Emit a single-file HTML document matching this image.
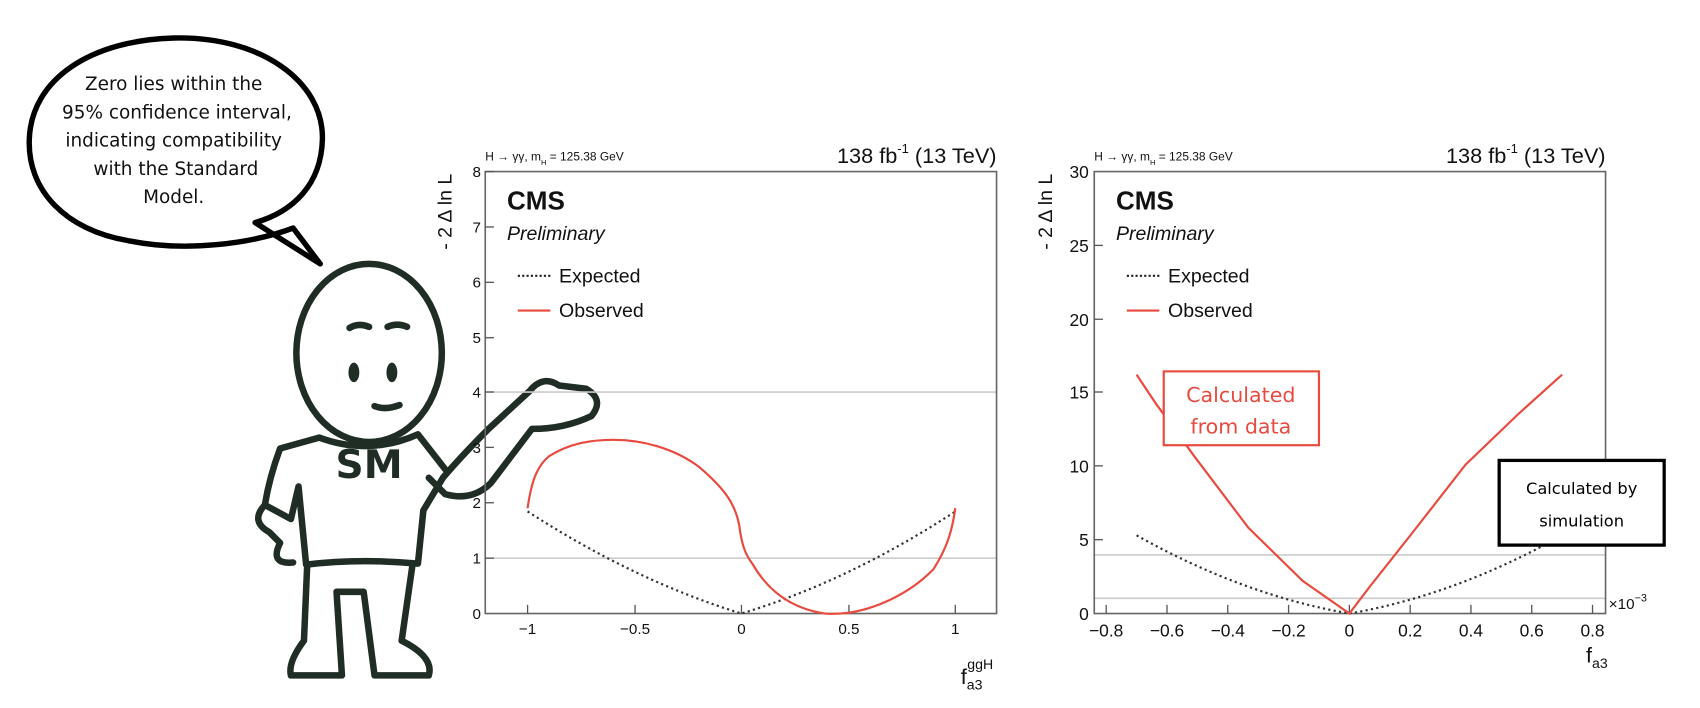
<!DOCTYPE html>
<html><head><meta charset="utf-8"><style>
html,body{margin:0;padding:0;background:#fff;}
svg{display:block}
.t{font-family:"Liberation Sans",Arial,sans-serif;fill:#111}
.c{font-family:"DejaVu Sans","Liberation Sans",sans-serif}
</style></head><body>
<svg width="1700" height="708" viewBox="0 0 1566 652" preserveAspectRatio="none" xmlns="http://www.w3.org/2000/svg">
<rect width="1566" height="652" fill="#fff"/>

<!-- Speech bubble -->
<path d="M160,35 C240,33 298,75 297,128 C296,170 270,195 235,205 L295,243 L270,210 C230,225 170,232 120,222 C60,212 25,175 27,128 C29,72 85,37 160,35 Z" fill="#fff" stroke="#000" stroke-width="5" stroke-linejoin="round"/>
<g class="c" font-size="17" text-anchor="middle" fill="#111">
<text x="160" y="83">Zero lies within the</text>
<text x="163" y="109">95% confidence interval,</text>
<text x="160" y="135">indicating compatibility</text>
<text x="162" y="161">with the Standard</text>
<text x="160" y="187">Model.</text>
</g>

<!-- Character -->
<g fill="none" stroke="#1f2d25" stroke-width="6" stroke-linecap="round" stroke-linejoin="round">
<ellipse cx="340" cy="325" rx="67" ry="82"/>
<path d="M322,302 Q330,297 340,301"/><path d="M357,301 Q366,297 375,301"/>
<path d="M345,374 Q355,378 368,373"/>
<path d="M294,403 L258,413 Q248,440 244,465 L268,478 L275,448 L282,520 Q330,514 385,519 L390,470 L408,440 Q425,420 450,395 L488,360 Q500,345 515,355 L540,358 Q557,368 545,383 Q520,395 490,395 L452,445 Q435,462 410,455 L395,440"/>
<path d="M294,403 Q340,420 385,400 L410,432"/>
<path d="M244,465 Q230,480 248,490 L258,500 Q248,520 270,518"/>
<path d="M283,520 L280,590 Q265,610 268,622 L315,622 L310,545 L335,545 L345,622 L395,622 Q400,605 370,590 L380,520"/>
</g>
<g fill="#1f2d25"><ellipse cx="326" cy="343" rx="5" ry="9"/><ellipse cx="361" cy="343" rx="5" ry="9"/></g>
<text x="340" y="440" class="c" font-size="36" font-weight="bold" fill="#1f2d25" text-anchor="middle">SM</text>

<!-- ============ LEFT PLOT ============ -->
<g class="t">
<text x="447" y="148" font-size="11">H → γγ, m<tspan font-size="7" dy="4">H</tspan><tspan dy="-4"> = 125.38 GeV</tspan></text>
<text x="918" y="150" font-size="20" text-anchor="end">138 fb<tspan font-size="12" dy="-9">-1</tspan><tspan dy="9"> (13 TeV)</tspan></text>
<text transform="translate(416,160) rotate(-90)" font-size="18" text-anchor="end">- 2 Δ ln L</text>
<text x="467" y="193" font-size="24" font-weight="bold">CMS</text>
<text x="467" y="221" font-size="18" font-style="italic">Preliminary</text>
<text x="515" y="260" font-size="18">Expected</text>
<text x="515" y="292" font-size="18">Observed</text>
</g>
<line x1="477" y1="254" x2="507" y2="254" stroke="#222" stroke-width="2" stroke-dasharray="2,2"/>
<line x1="477" y1="286" x2="507" y2="286" stroke="#e84a3f" stroke-width="2"/>
<line x1="447" y1="361" x2="918" y2="361" stroke="#ccc" stroke-width="1.5"/>
<line x1="447" y1="514" x2="918" y2="514" stroke="#ccc" stroke-width="1.5"/>
<rect x="447" y="158" width="471" height="407" fill="none" stroke="#666" stroke-width="1.5"/>
<g stroke="#555" stroke-width="1.2">
<line x1="447" y1="158" x2="455" y2="158"/><line x1="447" y1="209" x2="455" y2="209"/><line x1="447" y1="260" x2="455" y2="260"/><line x1="447" y1="311" x2="455" y2="311"/><line x1="447" y1="361" x2="455" y2="361"/><line x1="447" y1="412" x2="455" y2="412"/><line x1="447" y1="463" x2="455" y2="463"/><line x1="447" y1="514" x2="455" y2="514"/>
<line x1="486" y1="565" x2="486" y2="557"/><line x1="585" y1="565" x2="585" y2="557"/><line x1="683" y1="565" x2="683" y2="557"/><line x1="782" y1="565" x2="782" y2="557"/><line x1="880" y1="565" x2="880" y2="557"/>
</g>
<g class="t" font-size="14" text-anchor="end">
<text x="443" y="570">0</text><text x="443" y="519">1</text><text x="443" y="468">2</text><text x="443" y="417">3</text><text x="443" y="366">4</text><text x="443" y="316">5</text><text x="443" y="265">6</text><text x="443" y="214">7</text><text x="443" y="163">8</text>
</g>
<g class="t" font-size="14" text-anchor="middle">
<text x="486" y="584">−1</text><text x="585" y="584">−0.5</text><text x="683" y="584">0</text><text x="782" y="584">0.5</text><text x="880" y="584">1</text>
</g>
<text x="885" y="630" class="t" font-size="20">f<tspan font-size="13" dy="5">a3</tspan><tspan font-size="13" dx="-14" dy="-19">ggH</tspan></text>
<path d="M486,471 Q585,535 683,565 Q782,535 880,471" fill="none" stroke="#333" stroke-width="2" stroke-dasharray="2,3"/>
<path d="M486,468 C490,440 496,428 506,420 C525,408 545,405 565,405 C590,405 620,412 644,430 C665,448 677,462 681,484 C683,500 686,510 693,519 C705,540 725,560 760,565 C800,568 840,545 860,524 C872,505 877,490 880,468" fill="none" stroke="#e84a3f" stroke-width="2"/>

<!-- ============ RIGHT PLOT ============ -->
<g class="t">
<text x="1008" y="148" font-size="11">H → γγ, m<tspan font-size="7" dy="4">H</tspan><tspan dy="-4"> = 125.38 GeV</tspan></text>
<text x="1479" y="150" font-size="20" text-anchor="end">138 fb<tspan font-size="12" dy="-9">-1</tspan><tspan dy="9"> (13 TeV)</tspan></text>
<text transform="translate(969,160) rotate(-90)" font-size="18" text-anchor="end">- 2 Δ ln L</text>
<text x="1028" y="193" font-size="24" font-weight="bold">CMS</text>
<text x="1028" y="221" font-size="18" font-style="italic">Preliminary</text>
<text x="1076" y="260" font-size="18">Expected</text>
<text x="1076" y="292" font-size="18">Observed</text>
</g>
<line x1="1038" y1="254" x2="1068" y2="254" stroke="#222" stroke-width="2" stroke-dasharray="2,2"/>
<line x1="1038" y1="286" x2="1068" y2="286" stroke="#e84a3f" stroke-width="2"/>
<line x1="1008" y1="511" x2="1479" y2="511" stroke="#ccc" stroke-width="1.5"/>
<line x1="1008" y1="551" x2="1479" y2="551" stroke="#ccc" stroke-width="1.5"/>
<rect x="1008" y="158" width="471" height="407" fill="none" stroke="#666" stroke-width="1.5"/>
<g stroke="#555" stroke-width="1.2">
<line x1="1008" y1="497" x2="1016" y2="497"/><line x1="1008" y1="429" x2="1016" y2="429"/><line x1="1008" y1="361" x2="1016" y2="361"/><line x1="1008" y1="294" x2="1016" y2="294"/><line x1="1008" y1="226" x2="1016" y2="226"/>
<line x1="1019" y1="565" x2="1019" y2="557"/><line x1="1075" y1="565" x2="1075" y2="557"/><line x1="1131" y1="565" x2="1131" y2="557"/><line x1="1187" y1="565" x2="1187" y2="557"/><line x1="1243" y1="565" x2="1243" y2="557"/><line x1="1299" y1="565" x2="1299" y2="557"/><line x1="1355" y1="565" x2="1355" y2="557"/><line x1="1411" y1="565" x2="1411" y2="557"/><line x1="1467" y1="565" x2="1467" y2="557"/>
</g>
<g class="t" font-size="16" text-anchor="end">
<text x="1003" y="571">0</text><text x="1003" y="503">5</text><text x="1003" y="435">10</text><text x="1003" y="367">15</text><text x="1003" y="300">20</text><text x="1003" y="232">25</text><text x="1003" y="164">30</text>
</g>
<g class="t" font-size="16" text-anchor="middle">
<text x="1019" y="586">−0.8</text><text x="1075" y="586">−0.6</text><text x="1131" y="586">−0.4</text><text x="1187" y="586">−0.2</text><text x="1243" y="586">0</text><text x="1299" y="586">0.2</text><text x="1355" y="586">0.4</text><text x="1411" y="586">0.6</text><text x="1467" y="586">0.8</text>
</g>
<text x="1482" y="561" class="t" font-size="14">×10<tspan font-size="10" dy="-7">−3</tspan></text>
<text x="1461" y="610" class="t" font-size="20">f<tspan font-size="13" dy="5">a3</tspan></text>
<path d="M1047,493 Q1145,548 1243,565 Q1341,548 1439,493" fill="none" stroke="#333" stroke-width="2" stroke-dasharray="2,3"/>
<path d="M1047,345 L1065,372 L1100,420 L1150,486 L1200,535 L1243,565 L1262,540 L1300,492 L1350,428 L1400,380 L1439,345" fill="none" stroke="#e84a3f" stroke-width="2"/>

<!-- annotation boxes -->
<rect x="1072" y="342" width="143" height="68" fill="#fff" stroke="#e84a3f" stroke-width="2"/>
<g class="c" font-size="19" fill="#e84a3f" text-anchor="middle">
<text x="1143" y="370">Calculated</text><text x="1143" y="399">from data</text>
</g>
<rect x="1381" y="424" width="152" height="78" fill="#fff" stroke="#000" stroke-width="3"/>
<g class="c" font-size="15" fill="#000" text-anchor="middle">
<text x="1457" y="455">Calculated by</text><text x="1457" y="485">simulation</text>
</g>
</svg>
</body></html>
